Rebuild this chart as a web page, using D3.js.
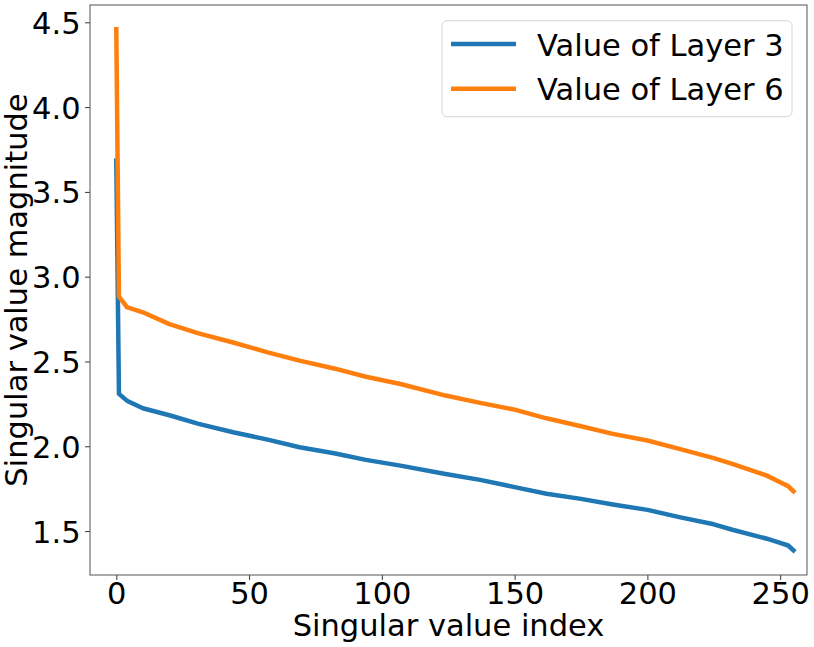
<!DOCTYPE html>
<html>
<head>
<meta charset="utf-8">
<script src="https://cdn.jsdelivr.net/npm/d3@7"></script>
<style>
  html, body { margin: 0; padding: 0; background: #fff; }
  svg { display: block; }
  text { font-family: "DejaVu Sans", sans-serif; fill: #000; }
</style>
</head>
<body>
<svg id="chart" width="814" height="647"></svg>
<script>
// ---- Data ----
const indices = [0, 1, 4, 10, 20, 31, 44, 57, 69, 82, 94, 107, 124, 137, 150, 162, 175, 187, 200, 212, 225, 232, 245, 250, 253, 255];
const layer3Values = [3.684, 2.309, 2.269, 2.224, 2.183, 2.132, 2.083, 2.039, 1.994, 1.959, 1.92, 1.886, 1.837, 1.802, 1.759, 1.72, 1.69, 1.657, 1.625, 1.582, 1.54, 1.508, 1.455, 1.43, 1.415, 1.386];
const layer6Values = [4.459, 2.883, 2.82, 2.79, 2.72, 2.666, 2.612, 2.554, 2.505, 2.459, 2.41, 2.367, 2.299, 2.256, 2.216, 2.165, 2.118, 2.073, 2.034, 1.985, 1.93, 1.896, 1.827, 1.788, 1.765, 1.735];
const seriesNames = ["Value of Layer 3", "Value of Layer 6"];
const seriesColors = ["#1f77b4", "#ff7f0e"];
const xTicks = [0, 50, 100, 150, 200, 250];
const yTicks = [1.5, 2.0, 2.5, 3.0, 3.5, 4.0, 4.5];
const xLabel = "Singular value index";
const yLabel = "Singular value magnitude";

// ---- Layout ----
const svg = d3.select("#chart");
const margin = { left: 90, top: 5, right: 7, bottom: 72 };
const W = 814, H = 647;
const x0 = margin.left, x1 = W - margin.right;
const y0 = margin.top, y1 = H - margin.bottom;

const x = d3.scaleLinear().domain([-9.9, 260.1]).range([x0, x1]);
const y = d3.scaleLinear().domain([1.241, 4.602]).range([y1, y0]);

const fontSize = 30.5;

// clip
svg.append("defs").append("clipPath").attr("id", "clip")
  .append("rect").attr("x", x0).attr("y", y0).attr("width", x1 - x0).attr("height", y1 - y0);

// axes
const xAxis = d3.axisBottom(x).tickValues(xTicks).tickFormat(d3.format("d")).tickSize(4.9).tickPadding(4.5);
const yAxis = d3.axisLeft(y).tickValues(yTicks).tickFormat(d3.format(".1f")).tickSize(4.9).tickPadding(4.5);

const gx = svg.append("g").attr("transform", `translate(0,${y1})`).call(xAxis);
const gy = svg.append("g").attr("transform", `translate(${x0},0)`).call(yAxis);
[gx, gy].forEach(g => {
  g.select(".domain").remove();
  g.selectAll(".tick line").attr("stroke", "#333").attr("stroke-width", 1);
  g.selectAll(".tick text").style("font-size", fontSize + "px").style("font-family", "DejaVu Sans, sans-serif").attr("fill", "#000");
});
gx.selectAll(".tick text").attr("dy", null).attr("y", 28.5 + 0).attr("dominant-baseline", "auto")
  .attr("y", 603.5 - y1);
gy.selectAll(".tick text").attr("dy", "0.36em");

// lines
const line = d3.line().x((d, i) => x(indices[i])).y(d => y(d));
const plot = svg.append("g").attr("clip-path", "url(#clip)");
[layer3Values, layer6Values].forEach((vals, k) => {
  plot.append("path")
    .datum(vals)
    .attr("d", line)
    .attr("fill", "none")
    .attr("stroke", seriesColors[k])
    .attr("stroke-width", 4.5)
    .attr("stroke-linejoin", "round")
    .attr("stroke-linecap", "square");
});

// spines
svg.append("rect")
  .attr("x", x0).attr("y", y0).attr("width", x1 - x0).attr("height", y1 - y0)
  .attr("fill", "none").attr("stroke", "#555").attr("stroke-width", 1);

// axis labels
svg.append("text").attr("x", (x0 + x1) / 2).attr("y", 636)
  .attr("text-anchor", "middle").style("font-size", fontSize + "px").text(xLabel);
svg.append("text")
  .attr("transform", `translate(27,${(y0 + y1) / 2}) rotate(-90)`)
  .attr("text-anchor", "middle").style("font-size", fontSize + "px").text(yLabel);

// legend
const lg = svg.append("g");
lg.append("rect").attr("x", 442).attr("y", 20.7).attr("width", 350).attr("height", 96)
  .attr("rx", 5).attr("fill", "#fff").attr("fill-opacity", 0.8)
  .attr("stroke", "#d6d6d6").attr("stroke-width", 1);
const legendY = [44, 88.7];
seriesNames.forEach((name, k) => {
  lg.append("line").attr("x1", 451).attr("x2", 516).attr("y1", legendY[k]).attr("y2", legendY[k])
    .attr("stroke", seriesColors[k]).attr("stroke-width", 4.5);
  lg.append("text").attr("x", 537).attr("y", legendY[k] + 11.5)
    .style("font-size", fontSize + "px").text(name);
});
</script>
</body>
</html>
